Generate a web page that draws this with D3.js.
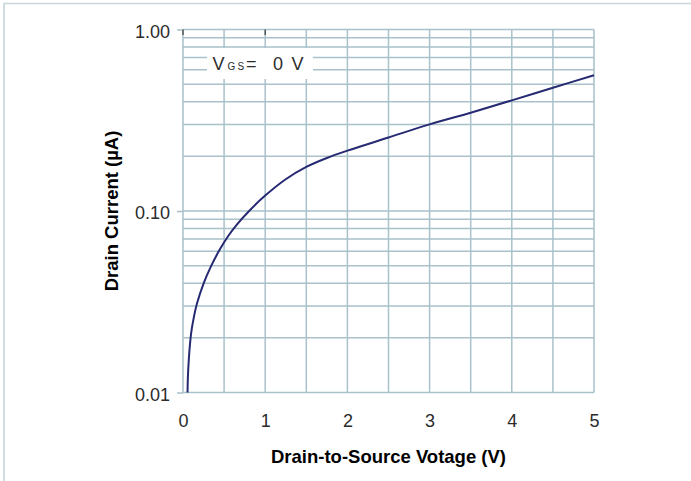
<!DOCTYPE html>
<html>
<head>
<meta charset="utf-8">
<script src="https://cdn.jsdelivr.net/npm/d3@7"></script>
<style>
  html, body { margin: 0; padding: 0; background: #fff; }
  svg { display: block; font-family: "Liberation Sans", Arial, Helvetica, sans-serif; }
</style>
</head>
<body>
<svg id="chart" width="691" height="481"></svg>
<script>
// Drain current vs drain-to-source voltage, V_GS = 0 V
const vds    = [0.055, 0.060, 0.068, 0.08, 0.10, 0.13, 0.17, 0.25, 0.34, 0.44, 0.55, 0.65, 0.81, 1.0, 1.25, 1.5, 1.75, 2.0, 2.5, 3.0, 3.5, 4.0, 4.5, 5.0];
const idrain = [0.0100, 0.0123, 0.0145, 0.0174, 0.0214, 0.0257, 0.0309, 0.0398, 0.0495, 0.0605, 0.0728, 0.0836, 0.1007, 0.1216, 0.1496, 0.175, 0.196, 0.215, 0.254, 0.300, 0.348, 0.407, 0.478, 0.560];

const xTickValues = [0, 1, 2, 3, 4, 5];
const yTickValues = [0.01, 0.1, 1];
const xGridValues = [0, 0.5, 1, 1.5, 2, 2.5, 3, 3.5, 4, 4.5, 5];

const xTitle = "Drain-to-Source Votage (V)";
const yTitle = "Drain Current (\u00b5A)";

const svg = d3.select("#chart");
const W = 691, H = 481;
const plot = { left: 183, right: 594, top: 29.5, bottom: 392.5 };

const gridColor = "#a9c1ca";
const textColor = "#2b2b2b";

// outer frame (top and left edges)
svg.append("path")
  .attr("d", `M4,${H} L4,3.5 L${W},3.5`)
  .attr("fill", "none")
  .attr("stroke", "#c9d6dc")
  .attr("stroke-width", 1.6);

const x = d3.scaleLinear().domain([0, 5]).range([plot.left, plot.right]);
const y = d3.scaleLog().domain([0.01, 1]).range([plot.bottom, plot.top]);

// horizontal grid at every minor decade step
const g = svg.append("g");
g.selectAll("line.h")
  .data(y.ticks())
  .join("line")
  .attr("x1", plot.left).attr("x2", plot.right)
  .attr("y1", d => y(d)).attr("y2", d => y(d))
  .attr("stroke", gridColor).attr("stroke-width", 1.5);

// vertical grid every 0.5 V
g.selectAll("line.v")
  .data(xGridValues)
  .join("line")
  .attr("x1", d => x(d)).attr("x2", d => x(d))
  .attr("y1", plot.top).attr("y2", plot.bottom)
  .attr("stroke", gridColor).attr("stroke-width", 1.5);

// y axis: short ticks + labels
const yAxis = d3.axisLeft(y)
  .tickValues(yTickValues)
  .tickFormat(d3.format(".2f"))
  .tickSize(6)
  .tickPadding(7);
const ya = svg.append("g").attr("transform", `translate(${plot.left},0)`).call(yAxis);
ya.select(".domain").remove();
ya.selectAll(".tick line").attr("stroke", gridColor).attr("stroke-width", 1.5);
ya.selectAll(".tick text")
  .attr("fill", textColor)
  .attr("dy", "0.42em")
  .style("font-size", "18px")
  .style("font-family", "'Liberation Sans', Arial, sans-serif");

// x axis labels
const xAxis = d3.axisBottom(x)
  .tickValues(xTickValues)
  .tickFormat(d3.format("d"))
  .tickSize(0)
  .tickPadding(21.5);
const xa = svg.append("g").attr("transform", `translate(0,${plot.bottom})`).call(xAxis);
xa.select(".domain").remove();
xa.selectAll(".tick text")
  .attr("fill", textColor)
  .style("font-size", "18px")
  .style("font-family", "'Liberation Sans', Arial, sans-serif");

// small dark marks along the top edge
svg.selectAll("line.topmark")
  .data([0, 1])
  .join("line")
  .attr("x1", d => x(d)).attr("x2", d => x(d))
  .attr("y1", plot.top).attr("y2", plot.top + 5.5)
  .attr("stroke", "#444").attr("stroke-width", 1.3);

// condition label with white backing box
const lab = svg.append("g");
lab.append("rect")
  .attr("x", 207).attr("y", 48)
  .attr("width", 106).attr("height", 31)
  .attr("fill", "#fff");
const lt = lab.append("text")
  .attr("y", 69.5)
  .attr("fill", textColor)
  .style("font-size", "18px");
lt.append("tspan").attr("x", 212.5).text("V");
lt.append("tspan").attr("x", 227.5).style("font-size", "10px").text("G");
lt.append("tspan").attr("x", 237.5).style("font-size", "10px").text("S");
lt.append("tspan").attr("x", 246).text("=");
lt.append("tspan").attr("x", 273).text("0");
lt.append("tspan").attr("x", 291.5).text("V");

// characteristic curve
const pts = vds.map((v, i) => [v, idrain[i]]);
svg.append("path")
  .datum(pts)
  .attr("fill", "none")
  .attr("stroke", "#262a72")
  .attr("stroke-width", 2)
  .attr("d", d3.line()
    .x(d => x(d[0]))
    .y(d => y(d[1]))
    .curve(d3.curveCatmullRom.alpha(0.5)));

// axis titles
svg.append("text")
  .attr("x", (plot.left + plot.right) / 2)
  .attr("y", 463)
  .attr("text-anchor", "middle")
  .attr("fill", "#000")
  .style("font-size", "18.5px")
  .style("font-weight", "bold")
  .text(xTitle);

svg.append("text")
  .attr("transform", `translate(118,${(plot.top + plot.bottom) / 2}) rotate(-90)`)
  .attr("text-anchor", "middle")
  .attr("fill", "#000")
  .style("font-size", "18.5px")
  .style("font-weight", "bold")
  .text(yTitle);
</script>
</body>
</html>
